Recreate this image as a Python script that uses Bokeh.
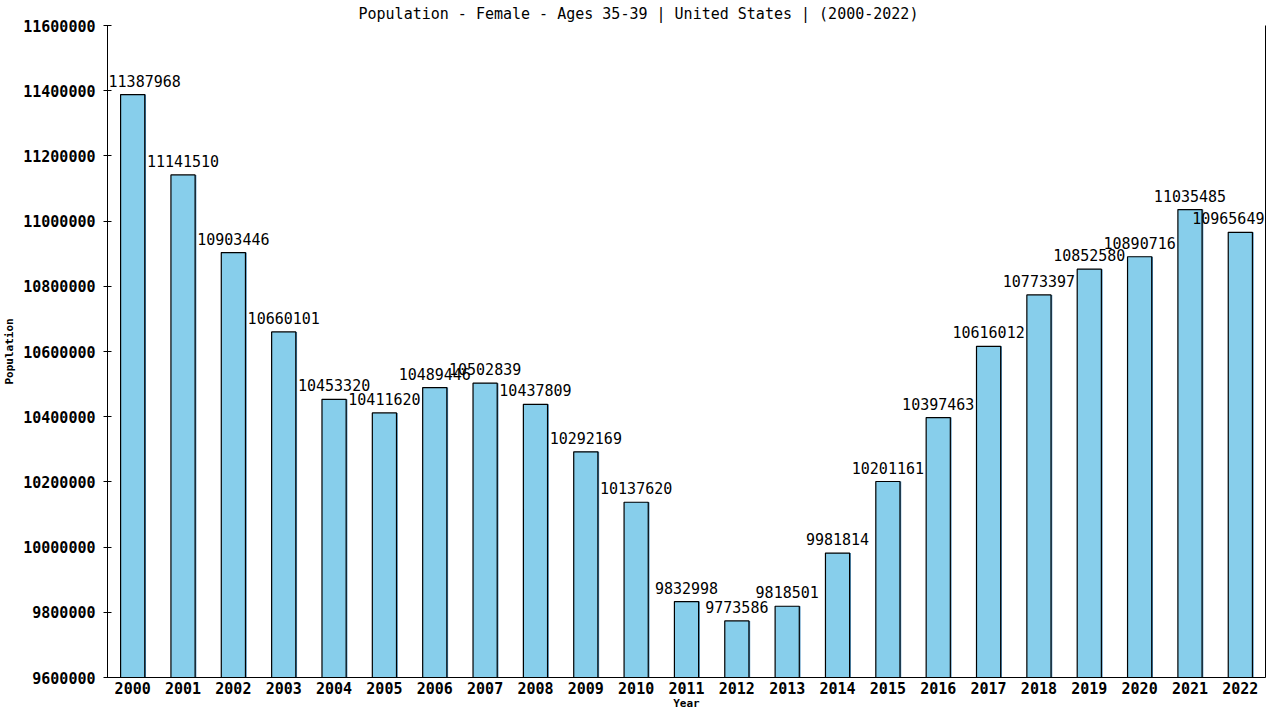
from bokeh.models import ColumnDataSource, FactorRange, LinearAxis, Range1d, Label, NumeralTickFormatter, FixedTicker
from bokeh.plotting import figure
from bokeh.transform import dodge
from bokeh.embed import file_html
from bokeh.resources import INLINE

years = [str(y) for y in range(2000, 2023)]
population = [11387968, 11141510, 10903446, 10660101, 10453320, 10411620,
              10489446, 10502839, 10437809, 10292169, 10137620, 9832998,
              9773586, 9818501, 9981814, 10201161, 10397463, 10616012,
              10773397, 10852580, 10890716, 11035485, 10965649]
y_ticks = [9600000 + 200000 * i for i in range(11)]

FONT = "DejaVu Sans Mono"

source = ColumnDataSource(dict(year=years, pop=population))

p = figure(width=1272, height=712, x_range=FactorRange(*years, range_padding=0),
           y_range=Range1d(9600000, 11600000), output_backend="svg",
           toolbar_location=None, tools="",
           min_border_left=105, min_border_right=7, min_border_top=25, min_border_bottom=34)

p.title.text = "Population - Female - Ages 35-39 | United States |  (2000-2022)"
p.title.text_font = FONT
p.title.text_font_size = "15px"
p.title.text_font_style = "normal"
p.title.text_color = "black"
p.title.align = "left"
p.title.offset = 251
p.title.standoff = 5

p.outline_line_color = None
p.xgrid.grid_line_color = None
p.ygrid.grid_line_color = None

# shadow then main bar
p.vbar(x=dodge("year", 0.025, range=p.x_range), top="pop", bottom=9600000, width=0.48,
       source=source, fill_color="#4a8fbf", line_color=None)
p.vbar(x="year", top="pop", bottom=9600000, width=0.48, source=source,
       fill_color="#87CEEB", line_color="black", line_width=1.2)

# value labels; a factor's synthetic x coordinate is its index + 0.5.
# the end labels are nudged inwards so the frame does not clip them
last = len(population) - 1
for i, v in enumerate(population):
    nudge = 12 if i == 0 else (-12 if i == last else 0)
    p.add_layout(Label(x=i + 0.5, y=v, text=str(v), text_align="center",
                       text_baseline="bottom", x_offset=nudge, y_offset=8,
                       text_font=FONT, text_font_size="15px", text_color="black"))

p.yaxis.ticker = y_ticks
p.yaxis.formatter = NumeralTickFormatter(format="0")
p.yaxis.axis_label = "Population"
p.xaxis.axis_label = "Year"
for ax in (p.xaxis, p.yaxis):
    ax.axis_label_text_font = FONT
    ax.axis_label_text_font_size = "11px"
    ax.axis_label_text_font_style = "bold"
    ax.axis_label_text_color = "black"
    ax.major_label_text_font = FONT
    ax.major_label_text_font_size = "15px"
    ax.major_label_text_font_style = "bold"
    ax.major_label_text_color = "black"
    ax.axis_line_color = "black"
    ax.minor_tick_line_color = None

p.yaxis.major_tick_in = 4
p.yaxis.major_tick_out = 4
p.yaxis.major_label_standoff = 8
p.yaxis.axis_label_standoff = 4
p.xaxis.major_tick_line_color = None
p.xaxis.major_tick_out = 0
p.xaxis.major_tick_in = 0
p.xaxis.major_label_standoff = 4
p.xaxis.axis_label_standoff = 0

# right border: a bare axis line with no ticks
right = LinearAxis(ticker=FixedTicker(ticks=[]), major_tick_line_color=None,
                   minor_tick_line_color=None, axis_line_color="black")
p.add_layout(right, "right")

open("out.html", "w").write(file_html(p, INLINE))
